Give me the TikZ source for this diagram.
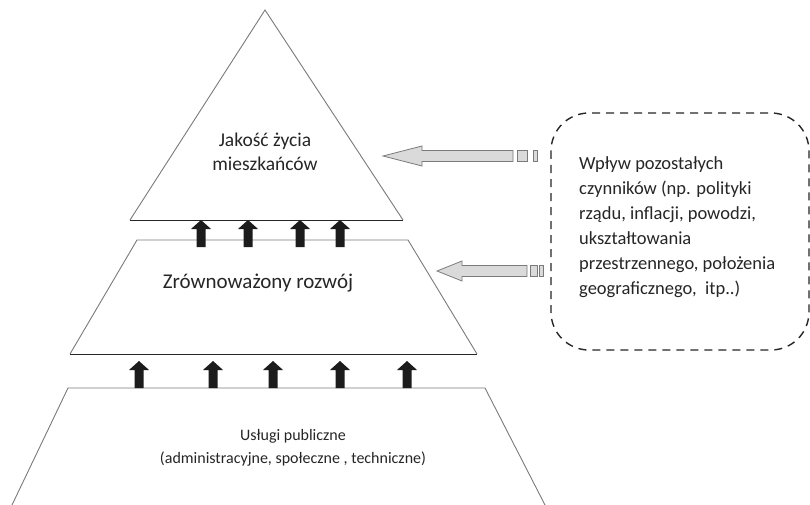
\documentclass[tikz,border=0pt]{standalone}
\usepackage{fontspec}
\setmainfont{Carlito}
\definecolor{edge}{HTML}{7A7A7A}
\definecolor{dark}{HTML}{262626}
\definecolor{blk}{HTML}{1C1C1C}
\definecolor{pale}{HTML}{DADADA}
\tikzset{
  level/.style={draw=edge, line width=0.9pt},
  base/.style={draw=dark, line width=1pt},
  label/.style={align=center, text=dark, inner sep=0pt},
  uparrow/.pic={
    \fill[blk] (0,0) -- (10,9) -- (4.5,9) -- (4.5,27) -- (-4.5,27) -- (-4.5,9) -- (-10,9) -- cycle;
  },
  influence/.style={draw=edge, fill=pale, line width=0.8pt},
}
% grey block arrow pointing left: tip x, y, head back x, shaft end x,
% first tail square x-range, second tail square x-range
\newcommand\leftblock[8]{%
  \draw[influence] (#1,#2) -- (#3,#2-10) -- (#3,#2-5.5) -- (#4,#2-5.5)
     -- (#4,#2+5.5) -- (#3,#2+5.5) -- (#3,#2+10) -- cycle;
  \draw[influence] (#5,#2-5.5) rectangle (#6,#2+5.5);
  \draw[influence] (#7,#2-5.5) rectangle (#8,#2+5.5);
}
\begin{document}
\begin{tikzpicture}[x=1pt, y=-1pt]
  \useasboundingbox (0,0) rectangle (810,505);
  \fill[white] (0,0) rectangle (810,505);

  % top level: triangle
  \draw[level] (130,220) -- (265,10) -- (403,220);
  \draw[base] (130,220) -- (403,220);
  % middle level: trapezoid
  \draw[level] (70,354) -- (137,240) -- (408,240) -- (477,354);
  \draw[base] (70,354) -- (477,354);
  % bottom level: open trapezoid
  \draw[level] (12,505) -- (68,388) -- (485,388) -- (545,505);

  % upward arrows between levels
  \foreach \x in {201,248,300,340} \pic at (\x,220) {uparrow};
  \foreach \x in {139,213,273,340,407} \pic at (\x,361) {uparrow};

  % influence arrows
  \leftblock{383}{156}{422}{513}{517}{527}{533}{537}
  \leftblock{437}{271}{462}{527}{530}{537}{539}{543}

  % dashed frame of other factors
  \draw[dark, line width=1.4pt, dash pattern=on 8pt off 6pt, rounded corners=38pt]
    (551,113) rectangle (809,350);

  \node[label, font=\fontsize{19.5}{24}\selectfont] (quality) at (265,152)
    {Jakość życia\\mieszkańców};
  \node[label, font=\fontsize{21}{24}\selectfont] (develop) at (258,283)
    {Zrównoważony rozwój};
  \node[label, font=\fontsize{16}{23}\selectfont] (services) at (293,448)
    {Usługi publiczne\\(administracyjne, społeczne , techniczne)};
  \node[label, align=left, anchor=north west, font=\fontsize{18.5}{25}\selectfont] (factors) at (579,156)
    {Wpływ pozostałych\\czynników (np. polityki\\rządu, inflacji, powodzi,\\ukształtowania\\przestrzennego, położenia\\geograficznego,\ \ itp..)};
\end{tikzpicture}
\end{document}
